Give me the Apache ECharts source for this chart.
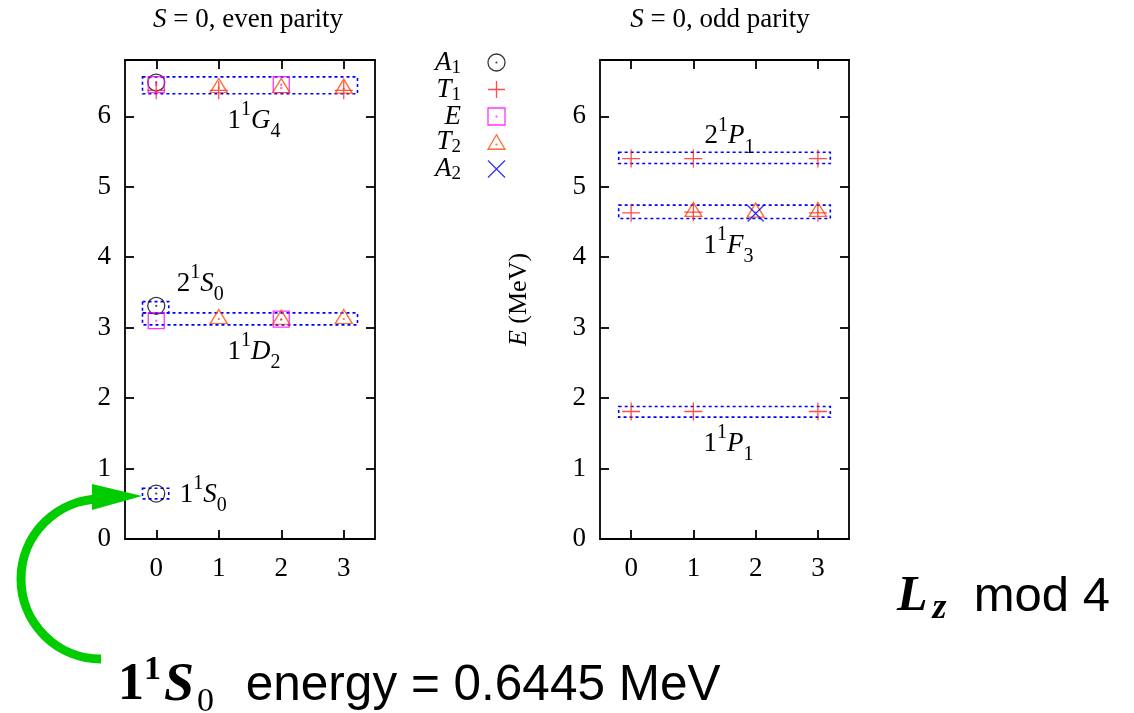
<!DOCTYPE html>
<html><head><meta charset="utf-8">
<script src="https://cdn.jsdelivr.net/npm/echarts@6/dist/echarts.min.js"></script>
<style>html,body{margin:0;padding:0;background:#fff}#c{width:1134px;height:713px}</style>
</head><body><div id="c"></div>
<script>
// ---- data ----
const lzTicks = [0, 1, 2, 3];
const energyTicks = [0, 1, 2, 3, 4, 5, 6];
const panelTitles = ['S = 0, even parity', 'S = 0, odd parity'];
const irreps = ['A1', 'T1', 'E', 'T2', 'A2'];

// even parity levels: [Lz mod 4, E (MeV)]
const evenA1 = [[0, 0.6445], [0, 3.31], [0, 6.48]];
const evenT1 = [[0, 6.37], [1, 6.37], [3, 6.37]];
const evenE  = [[0, 3.10], [2, 3.12], [0, 6.45], [2, 6.45]];
const evenT2 = [[1, 3.13], [2, 3.12], [3, 3.13], [1, 6.41], [2, 6.41], [3, 6.40]];
// odd parity levels
const oddT1 = [[0, 1.81], [1, 1.81], [3, 1.81], [0, 4.63], [1, 4.64], [3, 4.63], [0, 5.40], [1, 5.40], [3, 5.40]];
const oddT2 = [[1, 4.65], [2, 4.64], [3, 4.65]];
const oddA2 = [[2, 4.62]];

// multiplet boxes: [Lz min, Lz max, E min, E max]
const evenMultiplets = [[-0.22, 0.2, 0.57, 0.72], [-0.22, 0.2, 3.21, 3.37], [-0.22, 3.22, 3.04, 3.21], [-0.22, 3.22, 6.32, 6.56]];
const evenMultipletNames = ['1^1S_0', '2^1S_0', '1^1D_2', '1^1G_4'];
const oddMultiplets = [[-0.2, 3.2, 1.73, 1.88], [-0.2, 3.2, 4.55, 4.74], [-0.2, 3.2, 5.33, 5.49]];
const oddMultipletNames = ['1^1P_1', '1^1F_3', '2^1P_1'];

const groundEnergyText = '0.6445 MeV';

// ---- styling ----
const SERIF = "'Liberation Serif', 'DejaVu Serif', serif";
const SANS = "'Liberation Sans', Arial, sans-serif";
const FS = 27;
const placement = {'1^1S_0': 'right', '2^1S_0': 'aboveRight', '1^1D_2': 'below', '1^1G_4': 'below',
                   '1^1P_1': 'below', '1^1F_3': 'below', '2^1P_1': 'above'};
const colors = {A1: '#000000', T1: '#ff2020', E: '#ff00ff', T2: '#ff4500', A2: '#0000ff'};
const DOT = 'M10,9.5A0.5,0.5,0,1,1,10,10.5A0.5,0.5,0,1,1,10,9.5Z';
const symbols = {
  A1: 'path://M0,10A10,10,0,1,1,20,10A10,10,0,1,1,0,10Z' + DOT,
  T1: 'path://M0,10L20,10M10,0L10,20',
  E: 'path://M0,0L20,0L20,20L0,20Z' + DOT,
  T2: 'path://M0,17L10,0L20,17ZM10,11A0.5,0.5,0,1,1,10,12A0.5,0.5,0,1,1,10,11Z',
  A2: 'path://M0,0L20,20M20,0L0,20'
};
const sizes = {A1: 17, T1: 18, E: 16, T2: [17, 14], A2: 16};

const labelRich = {
  n: {fontFamily: SERIF, fontSize: FS, lineHeight: 42, fill: '#000'},
  it: {fontFamily: SERIF, fontStyle: 'italic', fontSize: FS, lineHeight: 42, fill: '#000'},
  sup: {fontFamily: SERIF, fontSize: 20, lineHeight: 26, verticalAlign: 'top', fill: '#000'},
  sub: {fontFamily: SERIF, fontSize: 20, lineHeight: 26, verticalAlign: 'bottom', fill: '#000'}
};
function richName(s) {
  const m = s.match(/^(\d)\^(\d)([A-Z])_(\d)$/);
  return '{n|' + m[1] + '}{sup|' + m[2] + '}{it|' + m[3] + '}{sub|' + m[4] + '}';
}

function boxRender(names) {
  return function (params, api) {
    const p0 = api.coord([api.value(0), api.value(3)]);
    const p1 = api.coord([api.value(1), api.value(2)]);
    const name = names[params.dataIndex];
    const place = placement[name];
    const cx = (p0[0] + p1[0]) / 2;
    let tx, ty, align;
    if (place === 'below') { tx = cx + 4; ty = p1[1] + 27; align = 'center'; }
    else if (place === 'above') { tx = cx + 5; ty = p0[1] - 16; align = 'center'; }
    else if (place === 'right') { tx = p1[0] + 11; ty = (p0[1] + p1[1]) / 2 + 1; align = 'left'; }
    else { tx = p1[0] + 8; ty = p0[1] - 18; align = 'left'; }
    return {type: 'group', children: [
      {type: 'rect', shape: {x: p0[0], y: p0[1], width: p1[0] - p0[0], height: p1[1] - p0[1]},
       style: {fill: 'none', stroke: '#0000ff', lineWidth: 1.6, lineDash: [3, 3]}},
      {type: 'text', x: tx, y: ty,
       style: {text: richName(name), rich: labelRich, fontFamily: SERIF, fontSize: FS, fill: '#000', align: align, verticalAlign: 'middle'}}
    ]};
  };
}

function scatter(name, g, data) {
  return {
    type: 'scatter', name: name, xAxisIndex: g * 2, yAxisIndex: g * 2, data: data,
    symbol: symbols[name], symbolSize: sizes[name], symbolKeepAspect: false,
    symbolOffset: name === 'T2' ? [0, -2] : [0, 0],
    itemStyle: {color: 'transparent', borderColor: colors[name], borderWidth: 1.3},
    emphasis: {disabled: true}, silent: true, z: 3
  };
}

const axisLineStyle = {color: '#000', width: 1.8};
const tickFont = {color: '#000', fontFamily: SERIF, fontSize: FS};
function xAxes(g) {
  return [
    {gridIndex: g, type: 'value', min: -0.5, max: 3.5, position: 'bottom',
     axisLine: {show: true, onZero: false, lineStyle: axisLineStyle},
     axisTick: {show: true, inside: true, length: 9, customValues: lzTicks, lineStyle: axisLineStyle},
     axisLabel: Object.assign({customValues: lzTicks, margin: 16}, tickFont),
     splitLine: {show: false}},
    {gridIndex: g, type: 'value', min: -0.5, max: 3.5, position: 'top',
     axisLine: {show: true, onZero: false, lineStyle: axisLineStyle},
     axisTick: {show: true, inside: true, length: 9, customValues: lzTicks, lineStyle: axisLineStyle},
     axisLabel: {show: false}, splitLine: {show: false}}
  ];
}
function yAxes(g, withName) {
  const main = {gridIndex: g, type: 'value', min: 0, max: 6.8, position: 'left',
     axisLine: {show: true, onZero: false, lineStyle: axisLineStyle},
     axisTick: {show: true, inside: true, length: 9, customValues: energyTicks, lineStyle: axisLineStyle},
     axisLabel: Object.assign({customValues: energyTicks, margin: 14}, tickFont),
     splitLine: {show: false}};
  if (withName) {
    Object.assign(main, {
      name: '{it|E} (MeV)', nameLocation: 'middle', nameGap: 68, nameRotate: 90,
      nameTextStyle: {color: '#000', fontFamily: SERIF, fontSize: 26,
        rich: {it: {fontFamily: SERIF, fontStyle: 'italic', fontSize: 26, color: '#000'}}}
    });
  }
  return [main,
    {gridIndex: g, type: 'value', min: 0, max: 6.8, position: 'right',
     axisLine: {show: true, onZero: false, lineStyle: axisLineStyle},
     axisTick: {show: true, inside: true, length: 9, customValues: energyTicks, lineStyle: axisLineStyle},
     axisLabel: {show: false}, splitLine: {show: false}}];
}

function titleRich(t) { return t.replace(/^S/, '{it|S}'); }
const titleRichStyle = {
  it: {fontFamily: SERIF, fontStyle: 'italic', fontSize: FS, fill: '#000'}
};

const option = {
  backgroundColor: '#fff',
  animation: false,
  grid: [
    {left: 125, top: 60, width: 250, height: 479},
    {left: 600, top: 60, width: 249, height: 479}
  ],
  xAxis: xAxes(0).concat(xAxes(1)),
  yAxis: yAxes(0, false).concat(yAxes(1, true)),
  legend: {
    data: irreps, orient: 'vertical', left: 435, top: 49, padding: 0,
    align: 'right', itemWidth: 17, itemHeight: 17, itemGap: -1.5, selectedMode: false,
    itemStyle: {borderWidth: 1.3},
    formatter: function (n) { return '{it|' + n[0] + '}' + (n.length > 1 ? '{sub|' + n.slice(1) + '}' : '') + '{gap| }'; },
    textStyle: {color: '#000', fontFamily: SERIF, fontSize: FS, rich: {
      it: {fontFamily: SERIF, fontStyle: 'italic', fontSize: FS, lineHeight: 30, color: '#000'},
      sub: {fontFamily: SERIF, fontSize: 19, lineHeight: 12, verticalAlign: 'bottom', color: '#000'},
      gap: {width: 22, fontSize: 10, lineHeight: 10}
    }}
  },
  series: [
    {type: 'custom', xAxisIndex: 0, yAxisIndex: 0, data: evenMultiplets, encode: {x: [0, 1], y: [2, 3]},
     renderItem: boxRender(evenMultipletNames), silent: true, z: 2},
    {type: 'custom', xAxisIndex: 2, yAxisIndex: 2, data: oddMultiplets, encode: {x: [0, 1], y: [2, 3]},
     renderItem: boxRender(oddMultipletNames), silent: true, z: 2},
    scatter('A1', 0, evenA1),
    scatter('T1', 0, evenT1),
    scatter('E', 0, evenE),
    scatter('T2', 0, evenT2),
    scatter('T1', 1, oddT1),
    scatter('T2', 1, oddT2),
    scatter('A2', 1, oddA2)
  ],
  graphic: [
    {type: 'text', x: 248, y: 6, style: {text: titleRich(panelTitles[0]), rich: titleRichStyle,
      fontFamily: SERIF, fontSize: FS, fill: '#000', align: 'center', verticalAlign: 'top'}},
    {type: 'text', x: 720, y: 6, style: {text: titleRich(panelTitles[1]), rich: titleRichStyle,
      fontFamily: SERIF, fontSize: FS, fill: '#000', align: 'center', verticalAlign: 'top'}},
    // green curved arrow
    {type: 'arc', z: 100, shape: {cx: 101, cy: 579, r: 80, startAngle: Math.PI / 2, endAngle: Math.PI * 1.5, clockwise: true},
     style: {stroke: '#00cc00', lineWidth: 9, fill: null}},
    {type: 'polygon', z: 101, shape: {points: [[92, 484], [142, 496], [92, 510]]}, style: {fill: '#00cc00'}},
    // bottom annotation
    {type: 'text', x: 118, y: 686, z: 100, style: {
      text: '{b|1}{bsup|1}{bs|S}{bsub|0}{sans| energy = ' + groundEnergyText + '}',
      fontFamily: SANS, fontSize: 49, fill: '#000', align: 'left', verticalAlign: 'middle',
      rich: {
        b: {fontFamily: SERIF, fontWeight: 'bold', fontSize: 52, lineHeight: 66, fill: '#000'},
        bsup: {fontFamily: SERIF, fontWeight: 'bold', fontSize: 34, lineHeight: 34, verticalAlign: 'top', fill: '#000'},
        bs: {fontFamily: SERIF, fontWeight: 'bold', fontStyle: 'italic', fontSize: 54, lineHeight: 66, padding: [0, 3, 0, 3], fill: '#000'},
        bsub: {fontFamily: SERIF, fontSize: 34, lineHeight: 60, verticalAlign: 'bottom', padding: [0, 18, 0, 0], fill: '#000'},
        sans: {fontFamily: SANS, fontSize: 49.5, lineHeight: 66, fill: '#000'}
      }}},
    {type: 'text', x: 897, y: 597, z: 100, style: {
      text: '{bl|L}{bz|z}{sans|  mod 4}',
      fontFamily: SANS, fontSize: 49, fill: '#000', align: 'left', verticalAlign: 'middle',
      rich: {
        bl: {fontFamily: SERIF, fontWeight: 'bold', fontStyle: 'italic', fontSize: 50, lineHeight: 60, padding: [0, 5, 0, 0], fill: '#000'},
        bz: {fontFamily: SERIF, fontWeight: 'bold', fontStyle: 'italic', fontSize: 36, lineHeight: 48, verticalAlign: 'bottom', fill: '#000'},
        sans: {fontFamily: SANS, fontSize: 49, lineHeight: 60, fill: '#000'}
      }}}
  ]
};

const chart = echarts.init(document.getElementById('c'), null, {renderer: 'canvas'});
chart.setOption(option);
</script>
</body></html>
